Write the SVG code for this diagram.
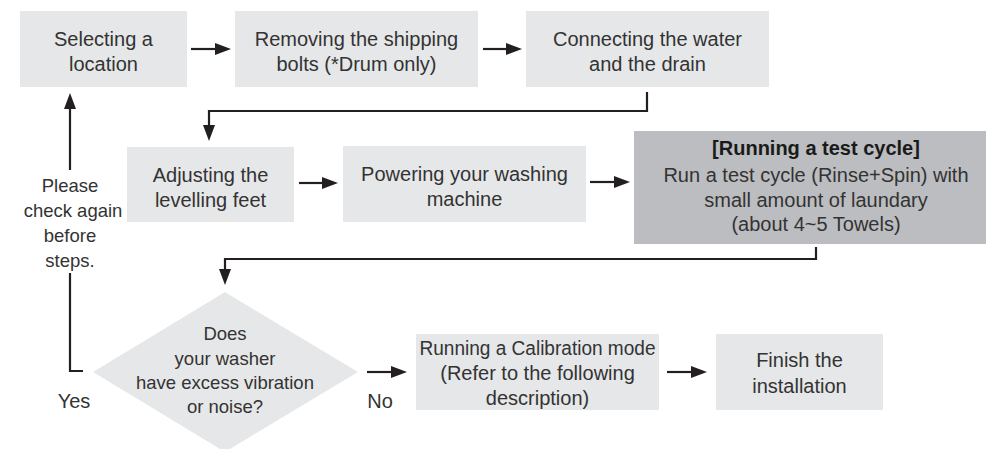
<svg xmlns="http://www.w3.org/2000/svg" width="986" height="449" viewBox="0 0 986 449">
<style>
.box{fill:#e6e7e8}
.dark{fill:#bcbdc0}
.t{font-family:"Liberation Sans",Arial,sans-serif;font-size:20px;fill:#333333;text-anchor:middle}
.s{font-size:18.5px}
.b{font-weight:bold;fill:#1a1a1a}
.ln{fill:none;stroke:#231f20;stroke-width:2.2}
.ah{fill:#231f20}
</style>
<rect width="986" height="449" fill="#ffffff"/>
<g id="n1"><rect class="box" x="20" y="11" width="167" height="76"/><text class="t" x="103.5" y="46">Selecting a</text><text class="t" x="103.5" y="71">location</text></g>
<g id="n2"><rect class="box" x="235" y="11" width="243" height="76"/><text class="t" x="356.5" y="46">Removing the shipping</text><text class="t" x="356.5" y="71">bolts (*Drum only)</text></g>
<g id="n3"><rect class="box" x="526" y="11" width="243" height="76"/><text class="t" x="647.5" y="46">Connecting the water</text><text class="t" x="647.5" y="71">and the drain</text></g>
<g id="n4"><rect class="box" x="127" y="147" width="167" height="75"/><text class="t" x="210.5" y="182">Adjusting the</text><text class="t" x="210.5" y="207">levelling feet</text></g>
<g id="n5"><rect class="box" x="343" y="146" width="243" height="76"/><text class="t" x="464.5" y="181">Powering your washing</text><text class="t" x="464.5" y="206">machine</text></g>
<g id="n6"><rect class="dark" x="634" y="131" width="352" height="113"/><text class="t b" x="816" y="155">[Running a test cycle]</text><text class="t" x="816" y="182">Run a test cycle (Rinse+Spin) with</text><text class="t" x="816" y="207">small amount of laundary</text><text class="t" x="816" y="231">(about 4~5 Towels)</text></g>
<g id="n7"><polygon class="box" points="225,292 358,372 225,452 93,372"/><text class="t s" x="225" y="340">Does</text><text class="t s" x="225" y="365">your washer</text><text class="t s" x="225" y="389">have excess vibration</text><text class="t s" x="225" y="413">or noise?</text></g>
<g id="n8"><rect class="box" x="416" y="334" width="243" height="76"/><text class="t" x="537.5" y="355" textLength="236" lengthAdjust="spacingAndGlyphs">Running a Calibration mode</text><text class="t" x="537.5" y="380">(Refer to the following</text><text class="t" x="537.5" y="405">description)</text></g>
<g id="n9"><rect class="box" x="716" y="334" width="167" height="76"/><text class="t" x="799.5" y="367">Finish the</text><text class="t" x="799.5" y="393">installation</text></g>
<g id="connectors">
<line class="ln" x1="191" y1="49" x2="217" y2="49"/><polygon class="ah" points="231,49 215,43 215,55"/>
<line class="ln" x1="483" y1="49" x2="508" y2="49"/><polygon class="ah" points="522,49 506,43 506,55"/>
<path class="ln" d="M647,92 V111 H209 V127"/><polygon class="ah" points="209,141 203,125 215,125"/>
<line class="ln" x1="299" y1="183" x2="324" y2="183"/><polygon class="ah" points="338,183 322,177 322,189"/>
<line class="ln" x1="590" y1="182" x2="616" y2="182"/><polygon class="ah" points="630,182 614,176 614,188"/>
<path class="ln" d="M816,247 V259 H225 V271"/><polygon class="ah" points="225,285 219,269 231,269"/>
<line class="ln" x1="367" y1="372" x2="393" y2="372"/><polygon class="ah" points="407,372 391,366 391,378"/>
<line class="ln" x1="667" y1="372" x2="693" y2="372"/><polygon class="ah" points="707,372 691,366 691,378"/>
<path class="ln" d="M83,371 H70 V273"/>
<line class="ln" x1="70" y1="170" x2="70" y2="107"/><polygon class="ah" points="70,93 64,109 76,109"/>
<text class="t s" x="70" y="192">Please</text><text class="t s" x="73" y="217">check again</text><text class="t s" x="70" y="242">before</text><text class="t s" x="70" y="267">steps.</text>
<text class="t" x="74" y="408">Yes</text><text class="t" x="380" y="408">No</text>
</g>
</svg>
